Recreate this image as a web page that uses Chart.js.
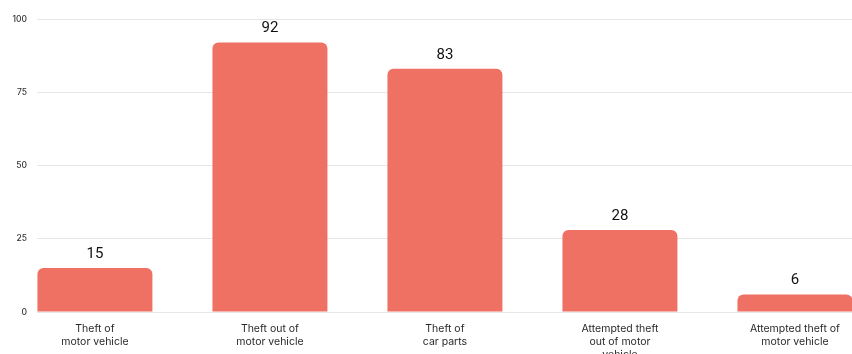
<!DOCTYPE html>
<html>
<head>
<meta charset="utf-8">
<script src="https://cdn.jsdelivr.net/npm/chart.js@4"></script>
<style>
  html, body { margin: 0; padding: 0; background: #fff; }
  #wrap { width: 852px; height: 354px; }
</style>
</head>
<body>
<div id="wrap"><canvas id="chart"></canvas></div>
<script>
const categories = [
  ['Theft of', 'motor vehicle'],
  ['Theft out of', 'motor vehicle'],
  ['Theft of', 'car parts'],
  ['Attempted theft', 'out of motor', 'vehicle'],
  ['Attempted theft of', 'motor vehicle']
];
const counts = [15, 92, 83, 28, 6];
const yTicks = [0, 25, 50, 75, 100];

// value labels above each bar
const valueLabels = {
  id: 'valueLabels',
  afterDatasetsDraw(chart) {
    const ctx = chart.ctx;
    const meta = chart.getDatasetMeta(0);
    ctx.save();
    ctx.fillStyle = '#111';
    ctx.font = '15px Roboto, sans-serif';
    ctx.textAlign = 'center';
    ctx.textBaseline = 'middle';
    meta.data.forEach((bar, i) => {
      ctx.fillText(String(counts[i]), bar.x, bar.y - 14);
    });
    ctx.restore();
  }
};

new Chart(document.getElementById('chart'), {
  type: 'bar',
  data: {
    datasets: [{
      data: counts.map((v, i) => ({ x: i, y: v })),
      backgroundColor: '#ef7163',
      borderRadius: 6,
      borderSkipped: 'bottom',
      categoryPercentage: 1,
      barPercentage: 0.657
    }]
  },
  options: {
    responsive: true,
    maintainAspectRatio: false,
    animation: false,
    layout: { padding: { top: 19, right: 0, left: 0, bottom: 0 } },
    plugins: { legend: { display: false }, tooltip: { enabled: false } },
    scales: {
      x: {
        type: 'linear',
        offset: false,
        min: -0.331,
        max: 4.326,
        grid: { display: false },
        border: { display: false },
        afterBuildTicks: (scale) => {
          scale.ticks = categories.map((c, i) => ({ value: i }));
        },
        afterFit: (scale) => { scale.height = 42; },
        ticks: {
          autoSkip: false,
          maxRotation: 0,
          padding: 3,
          color: '#2a2a2a',
          font: { family: 'Inter', size: 10.5, lineHeight: 1.2 },
          callback: (v) => categories[v]
        }
      },
      y: {
        min: 0,
        max: 100,
        afterBuildTicks: (scale) => {
          scale.ticks = yTicks.map(v => ({ value: v }));
        },
        afterFit: (scale) => { scale.width = 37; },
        grid: { color: '#e6e6e6', drawTicks: false },
        border: { display: false },
        ticks: {
          padding: 10,
          color: '#333',
          font: { family: 'Inter', size: 8.5, weight: '500' }
        }
      }
    }
  },
  plugins: [valueLabels]
});
</script>
</body>
</html>
